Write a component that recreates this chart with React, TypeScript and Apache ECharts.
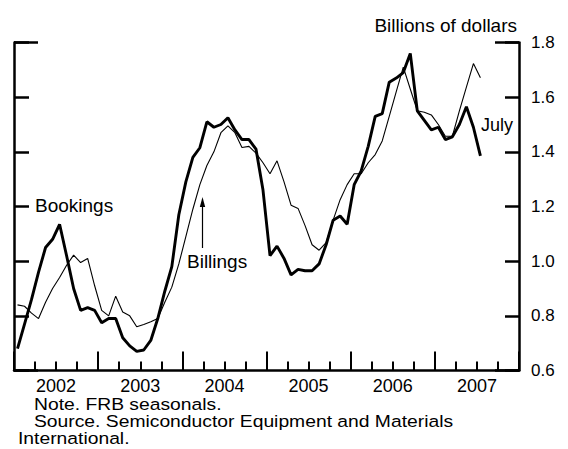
import React, { useEffect, useRef } from "react";
import * as echarts from "echarts";

const years = ["2002", "2003", "2004", "2005", "2006", "2007"];

// Monthly values, Jan 2002 through Jul 2007 (billions of dollars)
const bookings = [
  0.68, 0.77, 0.86, 0.96, 1.05, 1.08, 1.135, 1.02, 0.9, 0.82, 0.83, 0.82,
  0.775, 0.79, 0.79, 0.72, 0.69, 0.67, 0.675, 0.71, 0.79, 0.89, 0.98, 1.17,
  1.29, 1.38, 1.415, 1.51, 1.49, 1.5, 1.525, 1.48, 1.445, 1.445, 1.41, 1.26,
  1.02, 1.055, 1.01, 0.95, 0.97, 0.965, 0.965, 0.99, 1.06, 1.15, 1.165, 1.135,
  1.28, 1.33, 1.42, 1.53, 1.54, 1.655, 1.67, 1.69, 1.76, 1.55, 1.515, 1.48,
  1.49, 1.445, 1.455, 1.5, 1.565, 1.49, 1.385,
];

const billings = [
  0.84, 0.835, 0.81, 0.79, 0.85, 0.9, 0.94, 0.985, 1.022, 0.995, 1.01, 0.91,
  0.82, 0.8, 0.872, 0.814, 0.8, 0.76, 0.768, 0.778, 0.79, 0.85, 0.905, 0.99,
  1.09, 1.19, 1.28, 1.35, 1.4, 1.47, 1.495, 1.47, 1.416, 1.42, 1.395, 1.36,
  1.32, 1.367, 1.29, 1.205, 1.193, 1.13, 1.06, 1.04, 1.068, 1.15, 1.225, 1.28,
  1.32, 1.32, 1.36, 1.39, 1.44, 1.53, 1.62, 1.71, 1.63, 1.55, 1.545, 1.535,
  1.5, 1.457, 1.457, 1.55, 1.637, 1.723, 1.671,
];

const yMin = 0.6;
const yMax = 1.8;
const yStep = 0.2;

const FONT = "'Liberation Sans', Arial, Helvetica, sans-serif";

export default function App() {
  const ref = useRef<HTMLDivElement>(null);

  useEffect(() => {
    if (!ref.current) return;
    const chart = echarts.init(ref.current, undefined, { renderer: "svg" });
    const toPts = (arr: number[]) => arr.map((v, i) => [i + 0.5, v]);
    const lineCol = "#000";

    const yBase = {
      type: "value",
      splitLine: { show: false },
      axisLabel: { show: false },
    };

    const note = (text: string, x: number, y: number) => ({
      type: "text",
      x,
      y,
      scaleX: 1.17,
      style: {
        text,
        fontSize: 16.5,
        fontFamily: FONT,
        fill: "#000",
        verticalAlign: "top",
        align: "left",
      },
    });

    chart.setOption({
      animation: false,
      backgroundColor: "#fff",
      textStyle: { fontFamily: FONT, color: "#000" },
      grid: {
        left: 14,
        right: 49,
        top: 42.5,
        bottom: 78.5,
        outerBoundsMode: "none",
        containLabel: false,
      },
      title: {
        text: "Billions of dollars",
        right: 46,
        top: 11,
        textStyle: { fontFamily: FONT, fontSize: 19, fontWeight: "normal", color: "#000" },
      },
      xAxis: [
        {
          type: "value",
          min: 0,
          max: years.length * 12,
          interval: 12,
          position: "bottom",
          axisLine: { show: true, onZero: false, lineStyle: { color: lineCol, width: 2.5 } },
          axisTick: { show: true, inside: true, length: 19, lineStyle: { color: lineCol, width: 2 } },
          minorTick: { show: true, splitNumber: 4, length: 9, lineStyle: { color: lineCol, width: 2 } },
          axisLabel: { show: false },
          splitLine: { show: false },
          minorSplitLine: { show: false },
        },
        {
          type: "category",
          data: years,
          boundaryGap: true,
          position: "bottom",
          axisLine: { show: false, onZero: false },
          axisTick: { show: false },
          axisLabel: {
            show: true,
            margin: 6,
            fontSize: 18,
            color: "#000",
            fontFamily: FONT,
          },
          splitLine: { show: false },
        },
      ],
      yAxis: [
        {
          ...yBase,
          position: "right",
          min: yMin,
          max: yMax,
          interval: yStep,
          axisLine: { show: true, onZero: false, lineStyle: { color: lineCol, width: 2.5 } },
          axisTick: { show: true, inside: true, length: 14, lineStyle: { color: lineCol, width: 2.5 } },
          axisLabel: {
            show: true,
            margin: 12,
            fontSize: 17,
            color: "#000",
            fontFamily: FONT,
            showMinLabel: true,
            showMaxLabel: true,
            formatter: (v: number) => v.toFixed(1),
          },
        },
        {
          ...yBase,
          position: "left",
          min: yMin,
          max: yMax,
          interval: yStep,
          axisLine: { show: true, onZero: false, lineStyle: { color: lineCol, width: 2.5 } },
          axisTick: { show: true, inside: true, length: 15, lineStyle: { color: lineCol, width: 2.5 } },
        },
        {
          ...yBase,
          position: "left",
          min: 0,
          max: yMax,
          interval: yMax,
          axisLine: { show: false, onZero: false },
          axisTick: { show: true, inside: true, length: 24, lineStyle: { color: lineCol, width: 2.5 } },
        },
        {
          ...yBase,
          position: "right",
          min: 0,
          max: yMax,
          interval: yMax,
          axisLine: { show: false, onZero: false },
          axisTick: { show: true, inside: true, length: 24, lineStyle: { color: lineCol, width: 2.5 } },
        },
      ],
      series: [
        {
          name: "Billings",
          type: "line",
          xAxisIndex: 0,
          yAxisIndex: 0,
          data: toPts(billings),
          showSymbol: false,
          symbol: "none",
          lineStyle: { color: lineCol, width: 1.1 },
          z: 3,
        },
        {
          name: "Bookings",
          type: "line",
          xAxisIndex: 0,
          yAxisIndex: 0,
          data: toPts(bookings),
          showSymbol: false,
          symbol: "none",
          lineStyle: { color: lineCol, width: 2.9 },
          z: 4,
        },
      ],
      graphic: [
        {
          type: "text",
          left: 35,
          top: 196,
          style: { text: "Bookings", fontSize: 19, fontFamily: FONT, fill: "#000" },
        },
        {
          type: "text",
          left: 187,
          top: 252,
          style: { text: "Billings", fontSize: 19, fontFamily: FONT, fill: "#000" },
        },
        {
          type: "line",
          shape: { x1: 202.5, y1: 248, x2: 202.5, y2: 205 },
          style: { stroke: "#000", lineWidth: 1.2 },
        },
        {
          type: "polygon",
          shape: { points: [[202.5, 197], [199.8, 207], [205.2, 207]] },
          style: { fill: "#000" },
        },
        {
          type: "text",
          left: 481,
          top: 116,
          style: { text: "July", fontSize: 18, fontFamily: FONT, fill: "#000" },
        },
        note("Note. FRB seasonals.", 34, 395.5),
        note("Source. Semiconductor Equipment and Materials", 34, 412.5),
        note("International.", 18, 429.5),
      ],
    });

    return () => chart.dispose();
  }, []);

  return (
    <div
      ref={ref}
      style={{ position: "absolute", left: 0, top: 0, width: 568, height: 449, background: "#fff" }}
    />
  );
}
